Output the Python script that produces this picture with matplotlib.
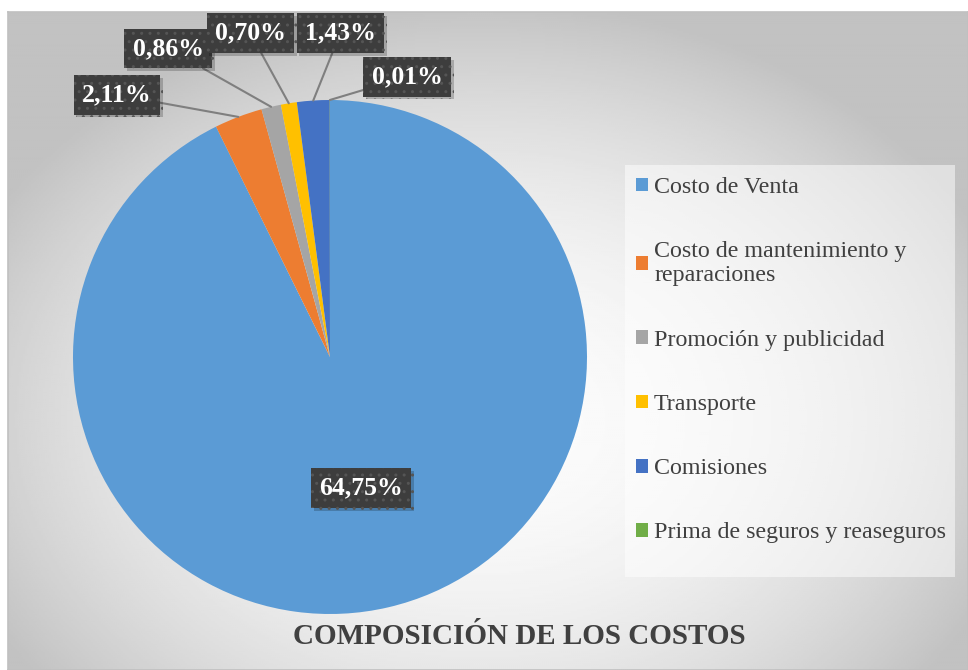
"""
Pie chart: composición de los costos (Excel-style look).
"""

import numpy as np
import matplotlib
matplotlib.use("Agg")
import matplotlib.pyplot as plt
from matplotlib.patches import Patch, Rectangle
import matplotlib.patheffects as pe

# ── Data ─────────────────────────────────────────────────────────
categories = [
    "Costo de Venta",
    "Costo de mantenimiento y\nreparaciones",
    "Promoción y publicidad",
    "Transporte",
    "Comisiones",
    "Prima de seguros y reaseguros",
]
values = [64.75, 2.11, 0.86, 0.70, 1.43, 0.01]
colors = ["#5B9BD5", "#ED7D31", "#A5A5A5", "#FFC000", "#4472C4", "#70AD47"]
title = "COMPOSICIÓN DE LOS COSTOS"

# label box centres (pie data units) – layout only
label_pos = [(0.12, -0.51), (-0.83, 1.02), (-0.63, 1.20),
             (-0.31, 1.26), (0.04, 1.26), (0.30, 1.09)]

W, H = 968, 670
plt.rcParams["font.family"] = ["Liberation Serif", "DejaVu Serif"]

fig = plt.figure(figsize=(W / 100, H / 100), dpi=100)
fig.patch.set_facecolor("white")

# ── Background: radial grey gradient ─────────────────────────────
ax_bg = fig.add_axes([8 / W, 0, (W - 8) / W, (H - 12) / H], zorder=0)
xs = np.linspace(8, W, 480)
ys = np.linspace(12, H, 330)
gx, gy = np.meshgrid(xs, ys)
r = np.sqrt(((gx - 480) / 560) ** 2 + ((gy - 420) / 420) ** 2)
shade = (252 - 58 * np.clip(r, 0, 1) ** 2) / 255
ax_bg.imshow(shade, cmap="gray", vmin=0, vmax=1, aspect="auto",
             extent=[0, 1, 0, 1], interpolation="bilinear")
ax_bg.set_xticks([])
ax_bg.set_yticks([])
for s in ax_bg.spines.values():
    s.set_color("#c0c0c0")
    s.set_linewidth(1.2)

# ── Pie ──────────────────────────────────────────────────────────
cx, cy, rad = 330, 357, 257
ax = fig.add_axes([(cx - rad) / W, (H - cy - rad) / H, 2 * rad / W, 2 * rad / H],
                  zorder=2)
ax.patch.set_alpha(0)
wedges, _ = ax.pie(values, colors=colors, startangle=90, counterclock=False,
                   radius=1, wedgeprops=dict(linewidth=0))
ax.set_xlim(-1, 1)
ax.set_ylim(-1, 1)
ax.set_aspect("equal")
ax.axis("off")

shadow = [pe.SimplePatchShadow(offset=(2, -2), shadow_rgbFace="black", alpha=0.2),
          pe.Normal()]

for i, (w, v) in enumerate(zip(wedges, values)):
    txt = f"{v:.2f}".replace(".", ",") + "%"
    theta = np.deg2rad((w.theta1 + w.theta2) / 2)
    xy = (np.cos(theta), np.sin(theta))
    bbox = dict(boxstyle="square,pad=0.32", fc="#3d3d3d", ec="#555555",
                lw=0, hatch="..")
    if i == 0:
        t = ax.text(*label_pos[i], txt, ha="center", va="center",
                    fontsize=18.5, fontweight="bold", color="white",
                    bbox=bbox, zorder=5)
    else:
        t = ax.annotate(txt, xy=xy, xytext=label_pos[i], ha="center",
                        va="center", fontsize=18.5, fontweight="bold",
                        color="white", bbox=bbox, zorder=5,
                        annotation_clip=False,
                        arrowprops=dict(arrowstyle="-", color="#7f7f7f",
                                        lw=1.5, shrinkA=0, shrinkB=0))
    t.get_bbox_patch().set_path_effects(shadow)

# ── Legend ───────────────────────────────────────────────────────
fig.patches.append(Rectangle((625 / W, 1 - 577 / H), 330 / W, 412 / H,
                             transform=fig.transFigure, fc="white",
                             alpha=0.5, lw=0, zorder=1))
handles = [Patch(facecolor=c, edgecolor="none") for c in colors]
fig.legend(handles, categories, loc="upper left",
           bbox_to_anchor=(636 / W, 1 - 177 / H), frameon=False,
           fontsize=17.3, labelcolor="#404040", handlelength=0.5,
           handleheight=0.5, handletextpad=0.25, labelspacing=1.8,
           borderpad=0, borderaxespad=0)

# ── Title ────────────────────────────────────────────────────────
fig.text(519 / W, 1 - 637 / H, title, ha="center", va="center",
         fontsize=21, fontweight="bold", color="#404040", zorder=3)

fig.savefig("out.png", dpi=100)
